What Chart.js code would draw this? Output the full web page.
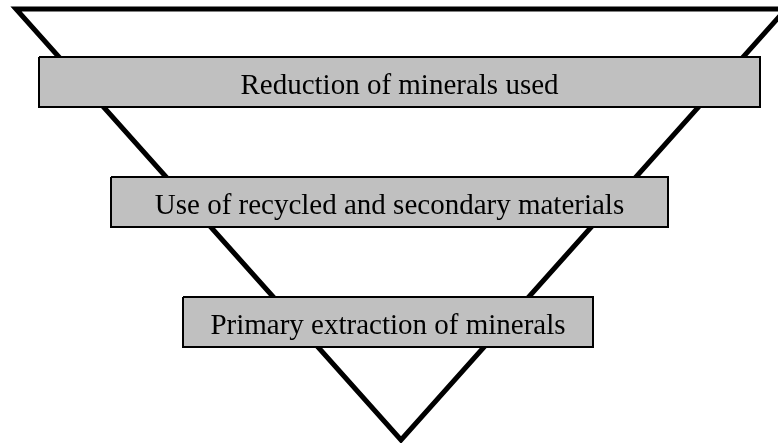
<!DOCTYPE html>
<html>
<head>
<meta charset="utf-8">
<script src="https://cdn.jsdelivr.net/npm/chart.js@4"></script>
<style>
  html, body { margin: 0; padding: 0; background: #fff; }
  #wrap { width: 778px; height: 443px; }
</style>
</head>
<body>
<div id="wrap"><canvas id="chart" width="778" height="443"></canvas></div>
<script>
// diagram levels, top to bottom
var labels = ['Reduction of minerals used', 'Use of recycled and secondary materials', 'Primary extraction of minerals'];
var boxLeft = [39, 111, 183];
var boxRight = [760, 668, 593];
var boxTop = [57, 177, 297];
var boxBottom = [107, 227, 347];

// inverted triangle outline (starts mid top edge so every corner is a join)
var triX = [401, 786, 401, 16, 401];
var triY = [9, 9, 440, 9, 9];

var datasets = [];
for (var i = 0; i < labels.length; i++) {
    datasets.push({
        label: labels[i],
        data: [
            {x: boxLeft[i], y: boxTop[i]},
            {x: boxRight[i], y: boxTop[i]},
            {x: boxRight[i], y: boxBottom[i]},
            {x: boxLeft[i], y: boxBottom[i]},
            {x: boxLeft[i], y: boxTop[i]}
        ],
        showLine: true,
        fill: 'shape',
        backgroundColor: '#c0c0c0',
        borderColor: '#000',
        borderWidth: 2,
        borderJoinStyle: 'miter',
        pointRadius: 0,
        tension: 0,
        order: 0
    });
}
var triPts = [];
for (var j = 0; j < triX.length; j++) {
    triPts.push({x: triX[j], y: triY[j]});
}
datasets.push({
    label: 'triangle',
    data: triPts,
    showLine: true,
    fill: false,
    borderColor: '#000',
    borderWidth: 5,
    borderJoinStyle: 'miter',
    pointRadius: 0,
    tension: 0,
    order: 1
});

var boxText = {
    id: 'boxText',
    afterDatasetsDraw: function(chart) {
        var ctx = chart.ctx;
        var xs = chart.scales.x, ys = chart.scales.y;
        ctx.save();
        ctx.fillStyle = '#000';
        ctx.font = '29px "Liberation Serif", "Times New Roman", serif';
        ctx.textAlign = 'center';
        ctx.textBaseline = 'alphabetic';
        for (var i = 0; i < labels.length; i++) {
            var cx = xs.getPixelForValue((boxLeft[i] + boxRight[i]) / 2);
            var cy = ys.getPixelForValue((boxTop[i] + boxBottom[i]) / 2);
            ctx.fillText(labels[i], cx, cy + 11.5);
        }
        ctx.restore();
    }
};

new Chart(document.getElementById('chart'), {
    type: 'scatter',
    data: { datasets: datasets },
    options: {
        responsive: false,
        animation: false,
        devicePixelRatio: 1,
        layout: { padding: 0 },
        scales: {
            x: { type: 'linear', min: 0, max: 778, display: false },
            y: { type: 'linear', min: 0, max: 443, reverse: true, display: false }
        },
        plugins: {
            legend: { display: false },
            tooltip: { enabled: false }
        }
    },
    plugins: [boxText]
});
</script>
</body>
</html>
